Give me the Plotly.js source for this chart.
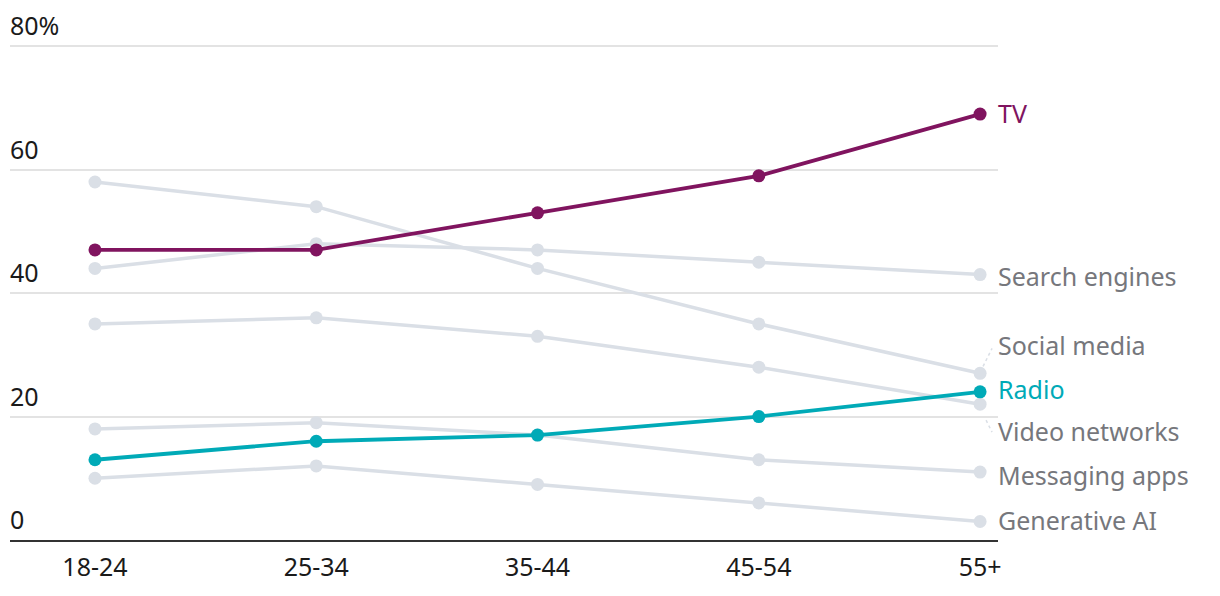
<!DOCTYPE html>
<html>
<head>
<meta charset="utf-8">
<script src="https://cdn.plot.ly/plotly-3.0.1.min.js"></script>
<style>
html,body{margin:0;padding:0;background:#fff;}
#chart{width:1220px;height:596px;}
</style>
</head>
<body>
<div id="chart"></div>
<script>
var ageGroups = ["18-24", "25-34", "35-44", "45-54", "55+"];
var socialMedia   = [58, 54, 44, 35, 27];
var searchEngines = [44, 48, 47, 45, 43];
var videoNetworks = [35, 36, 33, 28, 22];
var messagingApps = [18, 19, 17, 13, 11];
var generativeAI  = [10, 12, 9, 6, 3];
var tv            = [47, 47, 53, 59, 69];
var radio         = [13, 16, 17, 20, 24];
var yTickVals  = [0, 20, 40, 60, 80];
var yTickText  = ["0", "20", "40", "60", "80%"];

var FONT = "Noto Sans, sans-serif";
var GREY = "#dadfe6";
var TVC = "#80145f";
var RADC = "#00aab7";
var LABELGREY = "#76777c";

var xIdx = ageGroups.map(function(_, i){ return i; });

function series(name, vals, color, width) {
  return {
    type: "scatter", mode: "lines+markers", name: name,
    x: xIdx, y: vals,
    line: {color: color, width: width},
    marker: {color: color, size: 13},
    hoverinfo: "skip", cliponaxis: false
  };
}

var traces = [
  series("Generative AI", generativeAI, GREY, 3.5),
  series("Messaging apps", messagingApps, GREY, 3.5),
  series("Video networks", videoNetworks, GREY, 3.5),
  series("Search engines", searchEngines, GREY, 3.5),
  series("Social media", socialMedia, GREY, 3.5),
  series("Radio", radio, RADC, 3.8),
  series("TV", tv, TVC, 3.8)
];

var last = ageGroups.length - 1;
var labels = [
  {t: "TV", v: tv[last], c: TVC, s: 1},
  {t: "Search engines", v: searchEngines[last], c: LABELGREY, s: -1},
  {t: "Social media", v: socialMedia[last], c: LABELGREY, s: 28},
  {t: "Radio", v: radio[last], c: RADC, s: 3},
  {t: "Video networks", v: videoNetworks[last], c: LABELGREY, s: -27},
  {t: "Messaging apps", v: messagingApps[last], c: LABELGREY, s: -3},
  {t: "Generative AI", v: generativeAI[last], c: LABELGREY, s: 1}
];

var annotations = labels.map(function(l){
  return {
    x: last, y: l.v, xref: "x", yref: "y", text: l.t, showarrow: false,
    xanchor: "left", yanchor: "middle", xshift: 16, yshift: l.s,
    font: {family: FONT, size: 25, color: l.c}
  };
});

yTickVals.forEach(function(v, i){
  annotations.push({
    x: 0, y: v, xref: "paper", yref: "y", text: yTickText[i], showarrow: false,
    xanchor: "left", yanchor: "bottom", yshift: 2, xshift: -2,
    font: {family: FONT, size: 25, color: "#1a1a1a"}
  });
});

var shapes = [
  {type: "line", xref: "x", yref: "y", xsizemode: "pixel", ysizemode: "pixel",
   xanchor: last, yanchor: socialMedia[last], x0: 3, x1: 12, y0: 7, y1: 25,
   line: {color: GREY, width: 1.5, dash: "dot"}},
  {type: "line", xref: "x", yref: "y", xsizemode: "pixel", ysizemode: "pixel",
   xanchor: last, yanchor: videoNetworks[last], x0: 6, x1: 12, y0: -16, y1: -28,
   line: {color: GREY, width: 1.5, dash: "dot"}}
];

var layout = {
  width: 1220, height: 596,
  margin: {l: 10, r: 222, t: 40, b: 56},
  paper_bgcolor: "#fff", plot_bgcolor: "#fff",
  showlegend: false,
  font: {family: FONT, size: 25, color: "#1a1a1a"},
  xaxis: {
    range: [-0.384, 4.081], tickvals: xIdx, ticktext: ageGroups,
    showgrid: false, zeroline: false, showline: true, linecolor: "#333", linewidth: 2,
    ticks: "", ticklabelstandoff: 4,
    tickfont: {family: FONT, size: 25, color: "#1a1a1a"}, fixedrange: true
  },
  yaxis: {
    range: [0, 81], tickvals: [20, 40, 60, 80], showticklabels: false,
    showgrid: true, gridcolor: "#e3e3e3", gridwidth: 2, zeroline: false,
    showline: false, fixedrange: true
  },
  annotations: annotations,
  shapes: shapes
};

Plotly.newPlot("chart", traces, layout, {displayModeBar: false, staticPlot: true});
</script>
</body>
</html>
